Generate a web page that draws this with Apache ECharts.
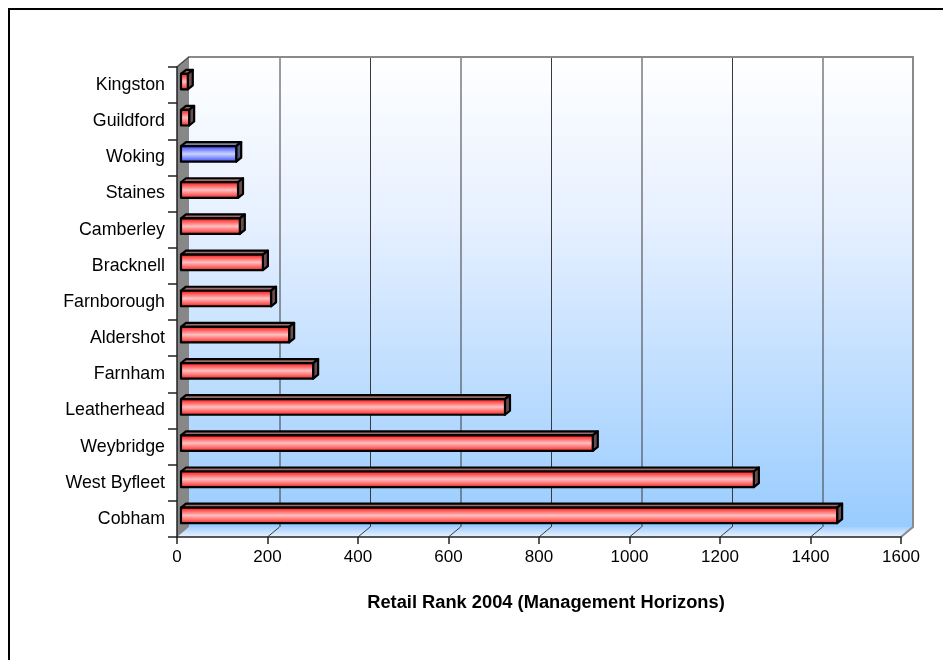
<!DOCTYPE html>
<html>
<head>
<meta charset="utf-8">
<script src="https://cdn.jsdelivr.net/npm/echarts@6/dist/echarts.min.js"></script>
<style>
  html, body { margin: 0; padding: 0; background: #fff; }
  #chart { width: 943px; height: 660px; }
</style>
</head>
<body>
<div id="chart"></div>
<script>
// Towns, top to bottom
const towns = ['Kingston', 'Guildford', 'Woking', 'Staines', 'Camberley', 'Bracknell',
  'Farnborough', 'Aldershot', 'Farnham', 'Leatherhead', 'Weybridge', 'West Byfleet', 'Cobham'];
// Retail Rank 2004 (Management Horizons)
const ranks = [15, 18, 122, 126, 130, 181, 199, 239, 292, 716, 910, 1266, 1450];
// Highlighted town
const highlight = 'Woking';
// Value axis
const axisMin = 0, axisMax = 1600, axisStep = 200;
const axisTitle = 'Retail Rank 2004 (Management Horizons)';

// Perspective offset of the back wall and of the bars inside the box
const DEPTH_X = 12, DEPTH_Y = 10;
const BAR_OFF_X = 4, BAR_OFF_Y = 3.5, BAR_DX = 5, BAR_DY = 4;

const chart = echarts.init(document.getElementById('chart'), null, { renderer: 'canvas' });

const tickValues = [];
for (let v = axisMin; v <= axisMax; v += axisStep) tickValues.push(v);

function grad(stops) {
  return new echarts.graphic.LinearGradient(0, 0, 0, 1,
    stops.map(s => ({ offset: s[0], color: s[1] })));
}

const redFront = [[0, '#b81010'], [0.16, '#ff3c3c'], [0.5, '#ffc0c0'], [0.8, '#ff5858'], [1, '#c01818']];
const blueFront = [[0, '#2030c0'], [0.16, '#5868ff'], [0.5, '#ccd4ff'], [0.8, '#6878ff'], [1, '#2838c8']];

// Walls, floor, back gridlines
function renderBox(params, api) {
  const cs = params.coordSys;
  const x0 = cs.x, y0 = cs.y, x1 = cs.x + cs.width, y1 = cs.y + cs.height;
  const children = [];
  // back wall
  children.push({
    type: 'rect',
    shape: { x: x0 + DEPTH_X, y: y0 - DEPTH_Y, width: cs.width, height: cs.height },
    style: { fill: grad([[0, '#ffffff'], [0.35, '#e6f0ff'], [1, '#99ccff']]) }
  });
  // floor
  children.push({
    type: 'polygon',
    shape: { points: [[x0, y1], [x0 + DEPTH_X, y1 - DEPTH_Y], [x1 + DEPTH_X, y1 - DEPTH_Y], [x1, y1]] },
    style: { fill: grad([[0, '#a6cfff'], [1, '#eaf4ff']]) }
  });
  // left wall
  children.push({
    type: 'polygon',
    shape: { points: [[x0, y0], [x0 + DEPTH_X, y0 - DEPTH_Y], [x0 + DEPTH_X, y1 - DEPTH_Y], [x0, y1]] },
    style: { fill: '#878787' }
  });
  // gridlines on the back wall and their feet on the floor
  tickValues.forEach(function (t) {
    const px = api.coord([t, 0])[0];
    if (t > axisMin && t < axisMax) {
      children.push({
        type: 'line',
        shape: { x1: px + DEPTH_X + 0.5, y1: y0 - DEPTH_Y, x2: px + DEPTH_X + 0.5, y2: y1 - DEPTH_Y },
        style: { stroke: '#3a3a3a', lineWidth: 1 }
      });
      children.push({
        type: 'line',
        shape: { x1: px, y1: y1, x2: px + DEPTH_X, y2: y1 - DEPTH_Y },
        style: { stroke: '#3a3a3a', lineWidth: 1 }
      });
    }
  });
  // box edges
  children.push({
    type: 'polyline',
    shape: { points: [[x0, y0], [x0 + DEPTH_X, y0 - DEPTH_Y], [x1 + DEPTH_X, y0 - DEPTH_Y],
      [x1 + DEPTH_X, y1 - DEPTH_Y], [x1, y1]] },
    style: { stroke: '#8a8a8a', lineWidth: 2, fill: null }
  });
  children.push({
    type: 'line',
    shape: { x1: x0, y1: y0, x2: x0 + DEPTH_X, y2: y0 - DEPTH_Y },
    style: { stroke: '#333', lineWidth: 1 }
  });
  return { type: 'group', children: children };
}

// 3D bars
function renderBar(params, api) {
  const v = api.value(0);
  const idx = api.value(1);
  const base = api.coord([axisMin, idx]);
  const end = api.coord([v, idx]);
  const band = api.size([0, 1])[1];
  const h = band * 0.43;
  const xa = base[0] + BAR_OFF_X;
  const xb = end[0] + BAR_OFF_X;
  const yc = base[1] - BAR_OFF_Y;
  const yt = yc - h / 2, yb = yc + h / 2;
  const isHi = towns[idx] === highlight;
  const stroke = { stroke: '#000', lineWidth: 2.2, lineJoin: 'round' };
  return {
    type: 'group',
    children: [
      {
        type: 'polygon',
        shape: { points: [[xa, yt], [xa + BAR_DX, yt - BAR_DY], [xb + BAR_DX, yt - BAR_DY], [xb, yt]] },
        style: Object.assign({ fill: isHi ? '#7c82aa' : '#9c6c6c' }, stroke)
      },
      {
        type: 'polygon',
        shape: { points: [[xb, yt], [xb + BAR_DX, yt - BAR_DY], [xb + BAR_DX, yb - BAR_DY], [xb, yb]] },
        style: Object.assign({ fill: isHi ? '#565a80' : '#6c4c4c' }, stroke)
      },
      {
        type: 'rect',
        shape: { x: xa, y: yt, width: xb - xa, height: h },
        style: Object.assign({ fill: grad(isHi ? blueFront : redFront) }, stroke)
      }
    ]
  };
}

const fontFamily = 'Liberation Sans, Arial, sans-serif';

chart.setOption({
  animation: false,
  grid: { left: 177, right: 42, top: 67, bottom: 123, containLabel: false },
  xAxis: {
    type: 'value',
    min: axisMin, max: axisMax, interval: axisStep,
    axisLine: { show: true, lineStyle: { color: '#222', width: 1.5 } },
    axisTick: { show: true, length: 7, lineStyle: { color: '#222', width: 1.5 } },
    axisLabel: {
      margin: 12, fontFamily: fontFamily, fontSize: 17, color: '#000',
      formatter: function (v) { return String(v); }
    },
    splitLine: { show: false }
  },
  yAxis: {
    type: 'category',
    data: towns,
    inverse: true,
    axisLine: { show: true, lineStyle: { color: '#222', width: 1.5 } },
    axisTick: { show: true, length: 9, lineStyle: { color: '#222', width: 1.5 } },
    axisLabel: { margin: 12, fontFamily: fontFamily, fontSize: 17.8, color: '#000' },
    splitLine: { show: false }
  },
  graphic: [
    {
      type: 'rect', z: 100,
      shape: { x: 9, y: 9, width: 1200, height: 1000 },
      style: { fill: null, stroke: '#000', lineWidth: 2 }
    },
    {
      type: 'text', z: 100,
      x: 546, y: 603,
      style: {
        text: axisTitle, textAlign: 'center', textVerticalAlign: 'middle',
        fontFamily: fontFamily, fontSize: 18.3, fontWeight: 'bold', fill: '#000'
      }
    }
  ],
  series: [
    {
      type: 'custom',
      z: -1,
      silent: true,
      renderItem: renderBox,
      data: [[0, 0]],
      encode: { x: 0, y: 1 }
    },
    {
      type: 'custom',
      z: 3,
      renderItem: renderBar,
      data: ranks.map((v, i) => [v, i]),
      encode: { x: 0, y: 1 }
    }
  ]
});
</script>
</body>
</html>
